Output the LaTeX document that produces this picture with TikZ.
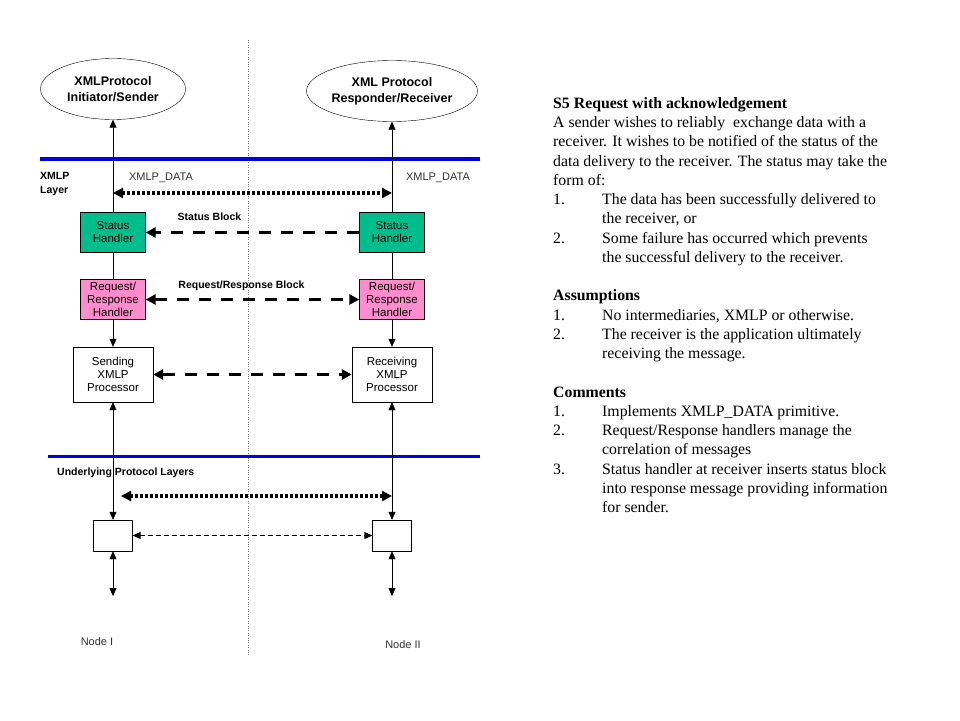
\documentclass[tikz,border=0pt]{standalone}
\usepackage{fontspec}
\setmainfont{Liberation Serif}
\setsansfont{Liberation Sans}
\usetikzlibrary{shapes.geometric,arrows.meta}
\definecolor{handlergreen}{RGB}{0,190,140}
\definecolor{handlerpink}{RGB}{255,140,204}
\definecolor{layerblue}{RGB}{0,0,225}

\begin{document}
\begin{tikzpicture}[x=1pt,y=-1pt,
    every node/.style={font=\sffamily\fontsize{11.5}{13}\selectfont,align=center},
    >={Triangle[length=8pt,width=7pt]},
    entity/.style={draw,ellipse,minimum width=145pt,minimum height=61pt,inner sep=0pt,font=\sffamily\bfseries\fontsize{12.5}{16}\selectfont},
    handler/.style={draw,minimum width=65pt,minimum height=40pt,inner sep=0pt},
    proc/.style={draw,minimum width=80pt,minimum height=55pt,inner sep=0pt},
    stub/.style={draw,minimum width=39pt,minimum height=31pt,inner sep=0pt},
    lbl/.style={font=\sffamily\bfseries\fontsize{10.5}{14.5}\selectfont,align=left,inner sep=0pt},
    prim/.style={font=\sffamily\fontsize{11}{13}\selectfont,text=black!80,inner sep=0pt},
    bigtips/.style={>={Triangle[length=10pt,width=10pt]}},
    dotline/.style={bigtips,line width=3.5pt,dash pattern=on 3pt off 2pt},
    dashline/.style={bigtips,line width=3.5pt,dash pattern=on 12pt off 10pt},
    thindash/.style={line width=1pt,dash pattern=on 5pt off 3pt}]

    \useasboundingbox (0,0) rectangle (960,720);

    % separation between the two nodes
    \draw[gray,dotted] (248,40) -- (248,655);

    % layer lines
    \draw[layerblue,line width=4pt] (40,159) -- (480,159);
    \draw[layerblue,line width=3pt] (48,456) -- (480,456);

    \node[entity] (ini) at (113,89) {XMLProtocol\\Initiator/Sender};
    \node[entity] (rcv) at (392,91) {XML Protocol\\Responder/Receiver};

    \node[handler,fill=handlergreen] (sh1) at (113,232.5) {Status\\Handler};
    \node[handler,fill=handlergreen] (sh2) at (392,232.5) {Status\\Handler};

    \node[handler,fill=handlerpink] (rr1) at (113,299.5) {Request/\\Response\\Handler};
    \node[handler,fill=handlerpink] (rr2) at (392,299.5) {Request/\\Response\\Handler};

    \node[proc] (sp1) at (113,374.5) {Sending\\XMLP\\Processor};
    \node[proc] (rp2) at (392,374.5) {Receiving\\XMLP\\Processor};

    \node[stub] (st1) at (113,535.5) {};
    \node[stub] (st2) at (392,535.5) {};

    \coordinate (d1) at (113,193);
    \coordinate (d2) at (392,193);
    \coordinate (u1) at (121,496);
    \coordinate (u2) at (392,496);
    \coordinate (b1) at (113,596);
    \coordinate (b2) at (392,596);

    \node[lbl,anchor=north west] (xl) at (40,172) {XMLP\\Layer};
    \node[prim] (pd1) at (161,178) {XMLP\_DATA};
    \node[prim] (pd2) at (438,178) {XMLP\_DATA};
    \node[lbl] (sb) at (209.5,217) {Status Block};
    \node[lbl] (rb) at (241.5,286) {Request/Response Block};
    \node[lbl,anchor=west] (ul) at (57,473) {Underlying Protocol Layers};
    \node[prim] (n1) at (97,642) {Node I};
    \node[prim] (n2) at (403,645) {Node II};

    \draw[->] (sh1) -- (ini);
    \draw[->] (sh2) -- (rcv);
    \draw (sh1) -- (rr1);
    \draw (sh2) -- (rr2);
    \draw[->] (rr1) -- (sp1);
    \draw[->] (rr2) -- (rp2);
    \draw[<->] (sp1) -- (st1);
    \draw[<->] (rp2) -- (st2);
    \draw[<->] (st1) -- (b1);
    \draw[<->] (st2) -- (b2);

    \draw[dotline,<->] (d1) -- (d2);
    \draw[dashline,->] (sh2) -- (sh1);
    \draw[dashline,<->] (rr1) -- (rr2);
    \draw[dashline,<->] (sp1) -- (rp2);
    \draw[dotline,<->] (u1) -- (u2);
    \draw[thindash,<->] (st1) -- (st2);

    \node[anchor=north west,inner sep=0pt,align=left,font=\rmfamily\fontsize{15.8}{19.25}\selectfont] (txt) at (553,97.3) {%
      \textbf{S5 Request with acknowledgement}\\
      A sender wishes to reliably\ \ exchange data with a\\
      receiver. It wishes to be notified of the status of the\\
      data delivery to the receiver. The status may take the\\
      form of:\\
      \makebox[49pt][l]{1.}The data has been successfully delivered to\\
      \hspace*{49pt}the receiver, or\\
      \makebox[49pt][l]{2.}Some failure has occurred which prevents\\
      \hspace*{49pt}the successful delivery to the receiver.\\[19.25pt]
      \textbf{Assumptions}\\
      \makebox[49pt][l]{1.}No intermediaries, XMLP or otherwise.\\
      \makebox[49pt][l]{2.}The receiver is the application ultimately\\
      \hspace*{49pt}receiving the message.\\[19.25pt]
      \textbf{Comments}\\
      \makebox[49pt][l]{1.}Implements XMLP\_DATA primitive.\\
      \makebox[49pt][l]{2.}Request/Response handlers manage the\\
      \hspace*{49pt}correlation of messages\\
      \makebox[49pt][l]{3.}Status handler at receiver inserts status block\\
      \hspace*{49pt}into response message providing information\\
      \hspace*{49pt}for sender.};
\end{tikzpicture}
\end{document}
